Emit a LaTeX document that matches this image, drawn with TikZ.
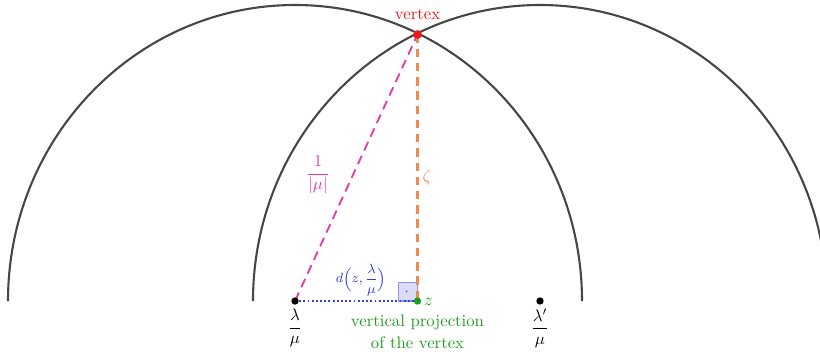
\documentclass[tikz,border=0pt]{standalone}
\usepackage{amsmath}
\definecolor{arcgray}{RGB}{70,70,70}
\definecolor{vred}{RGB}{235,25,25}
\definecolor{pinkd}{RGB}{226,60,170}
\definecolor{oranged}{RGB}{236,140,78}
\definecolor{blued}{RGB}{50,60,225}
\definecolor{greend}{RGB}{30,155,30}
\begin{document}
\begin{tikzpicture}[x=0.021cm,y=0.021cm,
  arcline/.style={line width=1.25pt, draw=arcgray},
  dotnode/.style={circle, fill=#1, inner sep=0pt, minimum size=4.4pt},
  lbl/.style={inner sep=1pt}]
\useasboundingbox (0,0) rectangle (820,351);
\clip (0,0) rectangle (820,351);
% points
\coordinate (lam) at (295,50);
\coordinate (lamp) at (540,50);
\coordinate (z) at (417.5,50);
\coordinate (vtx) at (417.5,316.5);
% arcs
\draw[arcline] (8,50) arc[start angle=180, end angle=0, x radius=287, y radius=296];
\draw[arcline] (253,50) arc[start angle=180, end angle=0, x radius=287, y radius=296];
% right angle marker
\draw[draw=blued!55, fill=blued!18, line width=0.8pt] (398.5,50) rectangle (417.5,68.5);
\fill[blued!80] (406.5,59.5) circle[radius=1];
% lines
\draw[pinkd, line width=1.1pt, dash pattern=on 5.5pt off 3.5pt] (lam) -- (vtx);
\draw[oranged, line width=1.3pt, dash pattern=on 5pt off 3.5pt] (vtx) -- (z);
\draw[blued, line width=1.2pt, dash pattern=on 1.1pt off 1.4pt] (lam) -- (z);
% dots
\node[dotnode=black] (nlam) at (lam) {};
\node[dotnode=black] (nlamp) at (lamp) {};
\node[dotnode=greend] (nz) at (z) {};
\node[dotnode=vred, minimum size=5.2pt] (nvtx) at (vtx) {};
% labels
\node[lbl, text=vred] (tv) at (417.5,337) {vertex};
\node[lbl, text=pinkd] (tmu) at (318,176) {$\dfrac{1}{|\mu|}$};
\node[lbl, text=oranged] (tz) at (427,174) {$\zeta$};
\node[lbl, text=blued, font=\footnotesize] (td) at (361,71) {$d\Big(z,\dfrac{\lambda}{\mu}\Big)$};
\node[lbl, text=greend, anchor=west] (tzl) at (422,49) {$z$};
\node[lbl, text=greend] (tp1) at (417.5,29) {vertical projection};
\node[lbl, text=greend] (tp2) at (417.5,8) {of the vertex};
\node[lbl] (tlam) at (295,23) {$\dfrac{\lambda}{\mu}$};
\node[lbl] (tlamp) at (540,23) {$\dfrac{\lambda'}{\mu}$};
\end{tikzpicture}
\end{document}
